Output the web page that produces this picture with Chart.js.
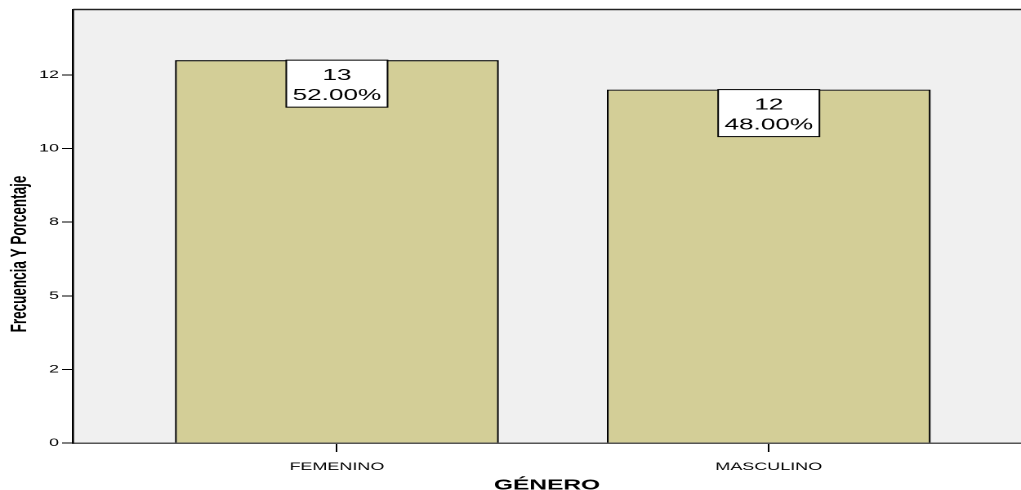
<!DOCTYPE html>
<html><head><meta charset="utf-8">
<script src="https://cdn.jsdelivr.net/npm/chart.js@4.4.1/dist/chart.umd.min.js"></script>
<style>
html,body{margin:0;padding:0;background:#fff;overflow:hidden;width:1021px;height:490px}
#wrap{position:absolute;left:0;top:0;width:625px;height:490px;transform:scaleX(1.6336);transform-origin:0 0}
canvas{display:block}
</style></head><body>
<div id="wrap"><canvas id="c" width="625" height="490"></canvas></div>
<script>
const categories = ['FEMENINO', 'MASCULINO'];
const categoryPositions = [0, 1];
const counts = [13, 12];
const yTickValues = [0, 2.5, 5, 7.5, 10, 12.5];
const yTickLabels = ['0', '2', '5', '8', '10', '12'];
const xAxisTitle = 'GÉNERO';
const yAxisTitle = 'Frecuencia Y Porcentaje';

const FONT = "'Liberation Sans', Arial, Helvetica, sans-serif";
const total = counts.reduce((a, b) => a + b, 0);

const framePlugin = {
  id: 'frame',
  beforeDraw(chart) {
    const { ctx, chartArea: a } = chart;
    ctx.save();
    ctx.fillStyle = '#f0f0f0';
    ctx.fillRect(a.left, a.top, a.right - a.left, a.bottom - a.top);
    ctx.restore();
  },
  afterDraw(chart) {
    const { ctx, chartArea: a } = chart;
    ctx.save();
    ctx.strokeStyle = '#222';
    ctx.lineWidth = 1.5;
    ctx.beginPath();
    ctx.moveTo(a.left, a.top);
    ctx.lineTo(a.right, a.top);
    ctx.stroke();
    ctx.translate(12.1, 254);
    ctx.rotate(-Math.PI / 2);
    ctx.fillStyle = '#000';
    ctx.font = 'bold 13.5px ' + FONT;
    ctx.textAlign = 'center';
    ctx.textBaseline = 'middle';
    ctx.fillText(yAxisTitle, 0, 0);
    ctx.restore();
  }
};

const labelPlugin = {
  id: 'boxLabels',
  afterDatasetsDraw(chart) {
    const { ctx } = chart;
    const meta = chart.getDatasetMeta(0);
    ctx.save();
    meta.data.forEach((bar, i) => {
      const w = 62, h = 47;
      const x0 = bar.x - w / 2, y0 = bar.y;
      ctx.fillStyle = '#fff';
      ctx.fillRect(x0, y0, w, h);
      ctx.strokeStyle = '#000';
      ctx.lineWidth = 1;
      ctx.strokeRect(x0, y0, w, h);
      ctx.fillStyle = '#000';
      ctx.font = '16px ' + FONT;
      ctx.textAlign = 'center';
      ctx.textBaseline = 'middle';
      ctx.fillText(String(counts[i]), bar.x, y0 + 15.5);
      ctx.fillText((counts[i] / total * 100).toFixed(2) + '%', bar.x, y0 + 35.5);
    });
    ctx.restore();
  }
};

new Chart(document.getElementById('c'), {
  type: 'bar',
  data: {
    datasets: [{
      data: categoryPositions.map((x, i) => ({ x: x, y: counts[i] })),
      backgroundColor: '#d3ce97',
      borderColor: '#000',
      borderWidth: 1.2,
      borderSkipped: 'start',
      barPercentage: 0.75,
      categoryPercentage: 1
    }]
  },
  options: {
    responsive: false,
    devicePixelRatio: 2,
    animation: false,
    layout: { padding: { top: 9.5, left: 0, right: 0, bottom: 0 } },
    plugins: { legend: { display: false }, tooltip: { enabled: false } },
    scales: {
      x: {
        type: 'linear',
        min: -0.611,
        max: 1.584,
        offset: false,
        afterBuildTicks: s => { s.ticks = categoryPositions.map(v => ({ value: v })); },
        afterFit: s => { s.height = 47; },
        ticks: {
          callback: (v, i) => categories[i],
          font: { family: FONT, size: 11 },
          color: '#000',
          padding: 8.4,
          maxRotation: 0,
          autoSkip: false
        },
        grid: { drawOnChartArea: false, drawTicks: true, tickLength: 9, color: '#000', lineWidth: 1, offset: false },
        border: { display: true, color: '#555', width: 1.5 },
        title: {
          display: true,
          text: xAxisTitle,
          color: '#000',
          font: { family: FONT, size: 15, weight: 'bold', lineHeight: 0.6 },
          padding: { top: 0, bottom: 0 }
        }
      },
      y: {
        min: 0,
        max: 14.72,
        afterBuildTicks: s => { s.ticks = yTickValues.map(v => ({ value: v })); },
        afterFit: s => { s.width = 44.7; },
        ticks: {
          callback: (v, i) => yTickLabels[i],
          font: { family: FONT, size: 11 },
          color: '#000',
          padding: 1.9
        },
        grid: { drawOnChartArea: false, drawTicks: true, tickLength: 6.7, color: '#000', lineWidth: 1 },
        border: { display: true, color: '#000', width: 1.3 },
        title: { display: false }
      }
    }
  },
  plugins: [framePlugin, labelPlugin]
});
</script>
</body></html>
